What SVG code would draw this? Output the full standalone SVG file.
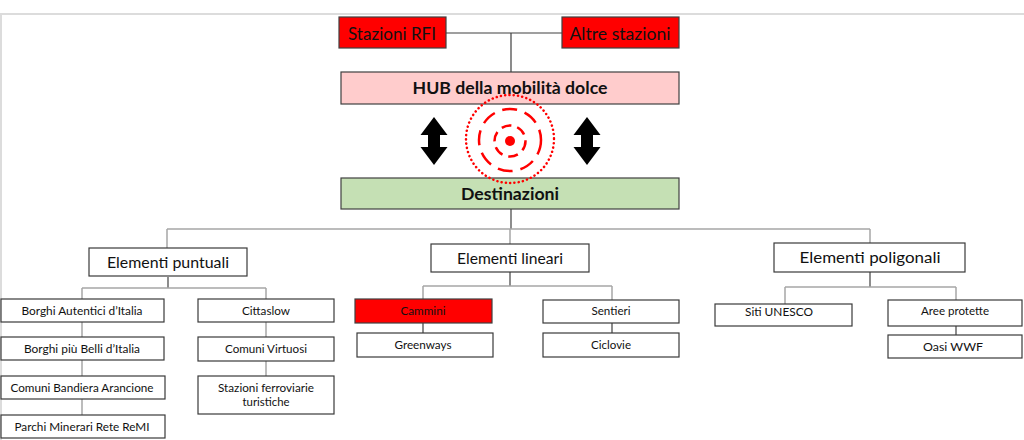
<svg xmlns="http://www.w3.org/2000/svg" width="1024" height="440" viewBox="0 0 1024 440">
<style>
.box{fill:#fff;stroke:#3a3a3a;stroke-width:1.2}
.red{fill:#ff0000;stroke:#404040;stroke-width:1.2}
.hub{fill:#ffcccc;stroke:#404040;stroke-width:1.2}
.dest{fill:#c5e0b4;stroke:#404040;stroke-width:1.2}
.t{font-family:Lato,"Liberation Sans",sans-serif;fill:#111;text-anchor:middle}
.top{font-size:18px}
.big{font-size:17px;font-weight:bold}
.mid{font-size:15px}
.sm{font-size:11px}
.dk{stroke:#404040;stroke-width:1.2;fill:none}
.gr{stroke:#a6a6a6;stroke-width:1.5;fill:none}
</style>
<rect x="1" y="14" width="1040" height="440" fill="#fff" stroke="#dcdcdc" stroke-width="2"/>
<g id="connectors">
<path class="dk" d="M446,33 H562 M511,33 V72"/>
<path class="dk" d="M511,209 V229"/>
<path class="gr" d="M167,229 H870 M167,229 V248 M510,229 V244 M870,229 V243"/>
<path class="dk" d="M168,277 V288"/>
<path class="gr" d="M82,288 H266 M82,288 V299 M266,288 V299"/>
<path class="gr" d="M82,322 V337 M82,360 V376 M82,399 V415 M266,322 V337 M266,361 V376"/>
<path class="dk" d="M510,272 V286"/>
<path class="gr" d="M423,286 H612 M423,286 V299 M612,286 V300"/>
<path class="dk" d="M423,323 V333 M612,323 V333"/>
<path class="dk" d="M870,272 V287"/>
<path class="gr" d="M785,287 H956 M785,287 V304 M956,287 V300"/>
<path class="dk" d="M956,326 V335"/>
</g>
<g id="stazioni-rfi"><rect class="red" x="339" y="17" width="107" height="31"/><text class="t top" x="392" y="40" textLength="88" lengthAdjust="spacingAndGlyphs">Stazioni RFI</text></g>
<g id="altre-stazioni"><rect class="red" x="562" y="17" width="117" height="31"/><text class="t top" x="620" y="40" textLength="101" lengthAdjust="spacingAndGlyphs">Altre stazioni</text></g>
<g id="hub"><rect class="hub" x="341" y="72" width="338" height="32"/><text class="t big" x="510" y="94" textLength="195" lengthAdjust="spacingAndGlyphs">HUB della mobilità dolce</text></g>
<g id="destinazioni"><rect class="dest" x="341" y="178" width="338" height="31"/><text class="t big" x="510" y="200" textLength="98" lengthAdjust="spacingAndGlyphs">Destinazioni</text></g>
<g id="arrows">
<path fill="#000" d="M434,117 L447.5,135 L440,135 L440,147 L447.5,147 L434,165 L420.5,147 L428,147 L428,135 L420.5,135 Z"/>
<path fill="#000" d="M587,117 L600.5,135 L593,135 L593,147 L600.5,147 L587,165 L573.5,147 L581,147 L581,135 L573.5,135 Z"/>
</g>
<g id="target" fill="none" stroke="#ff0000">
<circle cx="510" cy="139" r="44" stroke-width="2.5" stroke-dasharray="0.1 4.2" stroke-linecap="round"/>
<circle cx="510" cy="140" r="31" stroke-width="2.5" stroke-dasharray="15 8"/>
<circle cx="510" cy="141" r="15.5" stroke-width="2.5" stroke-dasharray="10 6"/>
<circle cx="510" cy="141" r="5" fill="#ff0000" stroke="none"/>
</g>
<g id="elementi-puntuali"><rect class="box" x="89" y="248" width="158" height="28"/><text class="t mid" x="168" y="268" textLength="122" lengthAdjust="spacingAndGlyphs">Elementi puntuali</text></g>
<g id="elementi-lineari"><rect class="box" x="431" y="244" width="158" height="28"/><text class="t mid" x="510" y="264" textLength="106" lengthAdjust="spacingAndGlyphs">Elementi lineari</text></g>
<g id="elementi-poligonali"><rect class="box" x="774" y="243" width="191" height="29"/><text class="t mid" x="870" y="263" textLength="141" lengthAdjust="spacingAndGlyphs">Elementi poligonali</text></g>
<g id="borghi-autentici"><rect class="box" x="1" y="299" width="163" height="23"/><text class="t sm" x="82" y="315" textLength="121" lengthAdjust="spacingAndGlyphs">Borghi Autentici d’Italia</text></g>
<g id="borghi-belli"><rect class="box" x="1" y="337" width="163" height="23"/><text class="t sm" x="82" y="353" textLength="116" lengthAdjust="spacingAndGlyphs">Borghi più Belli d’Italia</text></g>
<g id="comuni-bandiera"><rect class="box" x="1" y="376" width="164" height="23"/><text class="t sm" x="82" y="392" textLength="143" lengthAdjust="spacingAndGlyphs">Comuni  Bandiera Arancione</text></g>
<g id="parchi-minerari"><rect class="box" x="1" y="415" width="164" height="23"/><text class="t sm" x="82" y="431" textLength="135" lengthAdjust="spacingAndGlyphs">Parchi Minerari  Rete ReMI</text></g>
<g id="cittaslow"><rect class="box" x="198" y="299" width="136" height="23"/><text class="t sm" x="266" y="315" textLength="48" lengthAdjust="spacingAndGlyphs">Cittaslow</text></g>
<g id="comuni-virtuosi"><rect class="box" x="198" y="337" width="136" height="24"/><text class="t sm" x="266" y="353" textLength="82" lengthAdjust="spacingAndGlyphs">Comuni Virtuosi</text></g>
<g id="stazioni-ferroviarie"><rect class="box" x="198" y="376" width="136" height="38"/><text class="t sm" x="266" y="392" textLength="96" lengthAdjust="spacingAndGlyphs">Stazioni ferroviarie</text><text class="t sm" x="266" y="406" textLength="47" lengthAdjust="spacingAndGlyphs">turistiche</text></g>
<g id="cammini"><rect class="red" x="355" y="299" width="137" height="24"/><text class="t sm" x="423" y="315" textLength="45" lengthAdjust="spacingAndGlyphs">Cammini</text></g>
<g id="greenways"><rect class="box" x="357" y="333" width="136" height="24"/><text class="t sm" x="423" y="349" textLength="57" lengthAdjust="spacingAndGlyphs">Greenways</text></g>
<g id="sentieri"><rect class="box" x="543" y="300" width="136" height="23"/><text class="t sm" x="611" y="315" textLength="39" lengthAdjust="spacingAndGlyphs">Sentieri</text></g>
<g id="ciclovie"><rect class="box" x="543" y="333" width="136" height="24"/><text class="t sm" x="611" y="349" textLength="40" lengthAdjust="spacingAndGlyphs">Ciclovie</text></g>
<g id="siti-unesco"><rect class="box" x="715" y="304" width="137" height="22"/><text class="t sm" x="779" y="316" textLength="68" lengthAdjust="spacingAndGlyphs">Siti UNESCO</text></g>
<g id="aree-protette"><rect class="box" x="888" y="300" width="134" height="26"/><text class="t sm" x="955" y="315" textLength="68" lengthAdjust="spacingAndGlyphs">Aree protette</text></g>
<g id="oasi-wwf"><rect class="box" x="888" y="335" width="134" height="23"/><text class="t sm" x="953" y="351" textLength="60" lengthAdjust="spacingAndGlyphs">Oasi WWF</text></g>
</svg>
